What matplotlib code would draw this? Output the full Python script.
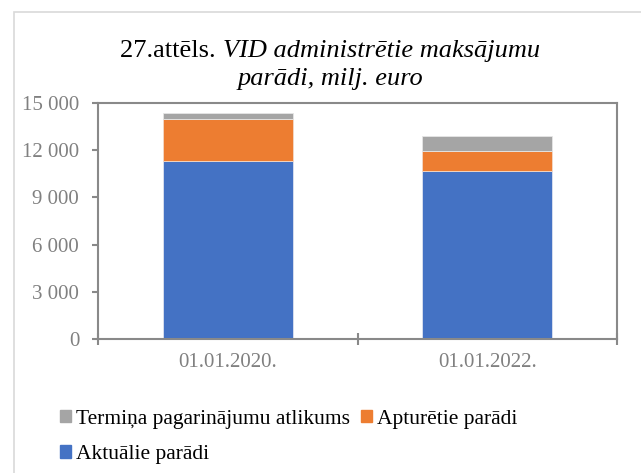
import matplotlib.pyplot as plt
from matplotlib.patches import Patch, Rectangle
from matplotlib.ticker import FuncFormatter

categories = ['01.01.2020.', '01.01.2022.']
aktualie = [11330, 10700]
aptureetie = [2670, 1230]
termina = [345, 970]

series_names = ['Termiņa pagarinājumu atlikums', 'Apturētie parādi', 'Aktuālie parādi']
colors = {'blue': '#4472C4', 'orange': '#ED7D31', 'gray': '#A5A5A5'}

plt.rcParams['font.family'] = ['Liberation Serif', 'DejaVu Serif']

W, H = 641, 473
fig = plt.figure(figsize=(W / 100, H / 100), dpi=100)
ax = fig.add_axes([98 / W, 1 - 339 / H, 519 / W, 236 / H])

x = range(len(categories))
bottom2 = [a + b for a, b in zip(aktualie, aptureetie)]
ax.bar(x, aktualie, width=0.5, color=colors['blue'], edgecolor='#dde3f0', linewidth=0.6)
ax.bar(x, aptureetie, width=0.5, bottom=aktualie, color=colors['orange'], edgecolor='#f3d9c8', linewidth=0.6)
ax.bar(x, termina, width=0.5, bottom=bottom2, color=colors['gray'], edgecolor='#e6e6e6', linewidth=0.6)

ax.set_xlim(-0.5, 1.5)
ax.set_ylim(0, 15000)
ax.set_yticks(range(0, 15001, 3000))
ax.yaxis.set_major_formatter(FuncFormatter(lambda v, p: f'{int(v):,}'.replace(',', ' ')))
ax.set_xticks([-0.5, 0.5, 1.5])
ax.set_xticklabels([])
ax.set_xticks(list(x), minor=True)
ax.set_xticklabels(categories, minor=True)
ax.tick_params(axis='x', which='minor', length=0, pad=10, labelsize=15, labelcolor='#808080')
ax.tick_params(axis='x', which='major', length=9, width=1.5, color='#898989', direction='inout')
ax.tick_params(axis='y', length=4.5, width=1.5, color='#898989', labelsize=15, labelcolor='#808080', pad=9)
for s in ax.spines.values():
    s.set_color('#898989')
    s.set_linewidth(1.5)

# title: normal + italic parts on line 1
fig.canvas.draw()
r = fig.canvas.get_renderer()
t1 = fig.text(0, 0, '27.attēls. ', fontsize=19, va='baseline')
t2 = fig.text(0, 0, 'VID administrētie maksājumu', fontsize=19, style='italic', va='baseline')
w1 = t1.get_window_extent(r).width
w2 = t2.get_window_extent(r).width
cx = 330
y1 = 1 - 57 / H
t1.set_position(((cx - (w1 + w2) / 2) / W, y1))
t2.set_position(((cx - (w1 + w2) / 2 + w1) / W, y1))
fig.text(cx / W, 1 - 85 / H, 'parādi, milj. euro', fontsize=19, style='italic', ha='center', va='baseline')

handles = [Patch(color=colors['gray']), Patch(color=colors['blue']), Patch(color=colors['orange'])]
labels = [series_names[0], series_names[2], series_names[1]]
fig.legend(handles, labels, loc='upper left', bbox_to_anchor=(60 / W, 1 - 410 / H),
           ncol=2, frameon=False, fontsize=15.5, handlelength=0.5, handleheight=0.5,
           handletextpad=0.25, columnspacing=0.5, labelspacing=0.75, borderpad=0, borderaxespad=0)

fig.patches.append(Rectangle((13.5 / W, -0.1), 1.1, 1 - 12 / H + 0.1, transform=fig.transFigure,
                             fill=False, edgecolor='#d9d9d9', linewidth=1.2))

fig.savefig('out.png', dpi=100)
